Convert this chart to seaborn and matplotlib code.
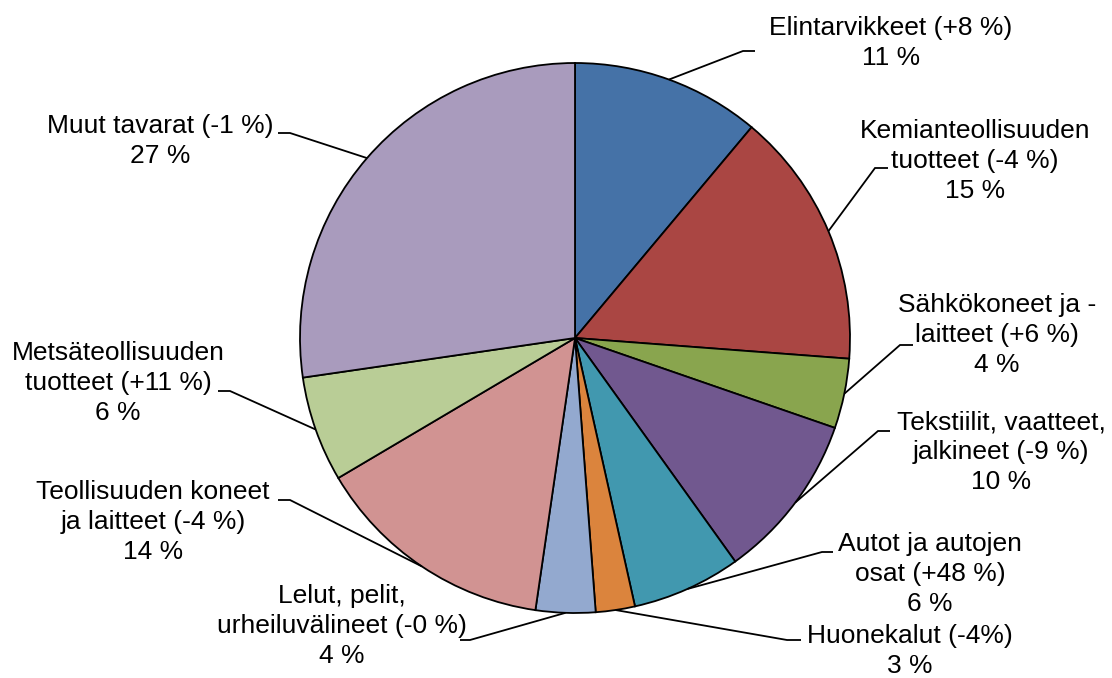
import numpy as np
import matplotlib
matplotlib.use("Agg")
import matplotlib.pyplot as plt
import seaborn as sns

# ---- data ----
categories = [
    "Elintarvikkeet (+8 %)",
    "Kemianteollisuuden\ntuotteet (-4 %)",
    "Sähkökoneet ja -\nlaitteet (+6 %)",
    "Tekstiilit, vaatteet,\njalkineet (-9 %)",
    "Autot ja autojen\nosat (+48 %)",
    "Huonekalut (-4%)",
    "Lelut, pelit,\nurheiluvälineet (-0 %)",
    "Teollisuuden koneet\nja laitteet (-4 %)",
    "Metsäteollisuuden\ntuotteet (+11 %)",
    "Muut tavarat (-1 %)",
]
shares = [11.1, 15.1, 4.1, 9.8, 6.4, 2.3, 3.5, 14.2, 6.2, 27.3]
share_labels = ["11 %", "15 %", "4 %", "10 %", "6 %", "3 %", "4 %", "14 %", "6 %", "27 %"]
colors = ["#4572A7", "#AA4643", "#89A54E", "#71588F", "#4198AF",
          "#DB843D", "#93A9CF", "#D19392", "#B9CD96", "#A99BBD"]

# ---- layout (pixel coordinates, y from top) ----
W, H = 1112, 678
center_px = (575, 338)
radius_px = 275
label_pos = [(891, 43), (975, 161), (997, 335), (1001, 452), (930, 574),
             (910, 651), (342, 626), (153, 522), (118, 383), (160, 141)]
knee_pos = [(743, 51), (875, 168), (900, 345), (878, 431), (822, 552),
            (787, 640), (470, 640), (290, 500), (230, 391), (290, 133)]
knee_end = [(755, 51), (888, 168), (913, 345), (890, 431), (833, 552),
            (801, 640), (460, 640), (278, 500), (218, 391), (278, 133)]

sns.set_theme(style="white")
plt.rcParams["font.family"] = ["Liberation Sans", "DejaVu Sans"]

fig = plt.figure(figsize=(W / 100, H / 100), dpi=100)
ax = fig.add_axes([0, 0, 1, 1])

def fy(y):
    return H - y

wedges, _ = ax.pie(
    shares,
    colors=colors,
    startangle=90,
    counterclock=False,
    center=(center_px[0], fy(center_px[1])),
    radius=radius_px,
    wedgeprops=dict(edgecolor="black", linewidth=1.3),
    frame=True,
)
ax.set_xlim(0, W)
ax.set_ylim(0, H)
ax.set_aspect("equal")
ax.axis("off")

for i, w in enumerate(wedges):
    mid = np.deg2rad((w.theta1 + w.theta2) / 2)
    ex = w.center[0] + w.r * np.cos(mid)
    ey = w.center[1] + w.r * np.sin(mid)
    kx, ky = knee_pos[i]
    hx, hy = knee_end[i]
    ax.plot([ex, kx, hx], [ey, fy(ky), fy(hy)], color="black", lw=1.3,
            solid_capstyle="butt", solid_joinstyle="miter")
    lx, ly = label_pos[i]
    ax.text(lx, fy(ly), categories[i] + "\n" + share_labels[i],
            ha="center", va="center", multialignment="center",
            fontsize=19, color="black", linespacing=1.3)

fig.savefig("out.png", dpi=100)
